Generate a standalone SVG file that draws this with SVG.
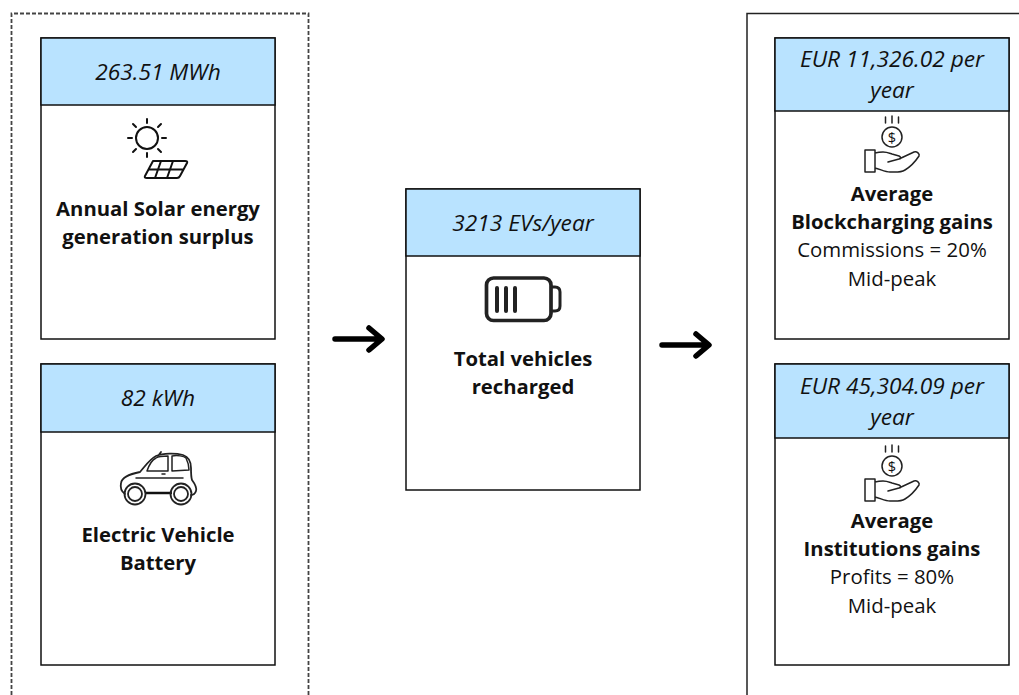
<svg xmlns="http://www.w3.org/2000/svg" width="1019" height="695" viewBox="0 0 1019 695">
<defs>
<style>
text{font-family:"Open Sans","Noto Sans",sans-serif;fill:#111;text-anchor:middle}
.v{font-size:22.7px;font-style:italic}
.b{font-size:20.3px;font-weight:700}
.r{font-size:20.4px}
.box{fill:#fff;stroke:#111;stroke-width:1.5}
.hd{fill:#b9e3ff;stroke:#111;stroke-width:1.5}
.ic{fill:none;stroke:#111;stroke-width:2;stroke-linecap:round;stroke-linejoin:round}
.th{fill:none;stroke:#222;stroke-width:1.5;stroke-linecap:round;stroke-linejoin:round}
.ar{fill:none;stroke:#000;stroke-width:5.500;stroke-linejoin:round;stroke-linecap:round}
</style>
<g id="coin">
<path class="th" d="M-6.500 -27V-21M0 -28V-21M6.500 -27V-21"/>
<circle class="th" cx="0" cy="-7" r="10"/>
<text x="0" y="-1.500" style="font-size:14.500px">$</text>
<path class="th" d="M-27 6H-17V28H-27ZM-17 9C-13 8 -11 8 -9 8C-5 8 -3 9 0 10L7 12C9 13 9 15 7 15L-4 18M7 15L22 8C25 7 28 10 27 12C23 18 18 23 13 26C8 29 2 28 -2 28C-7 28 -12 25 -17 24"/>
</g>
</defs>
<g id="frames">
<path d="M11.500 695V13.500H308.500V695" fill="none" stroke="#444" stroke-width="1.800" stroke-dasharray="4 2"/>
<path d="M747 695V13.500H1019" fill="none" stroke="#222" stroke-width="1.500"/>
</g>
<g id="connectors">
<path class="ar" d="M335 339H380M369 328L382 339L369 350"/>
<path class="ar" d="M662 345H707M696 334L709 345L696 356"/>
</g>
<g id="node-solar">
<rect class="box" x="41" y="38" width="234" height="301"/>
<rect class="hd" x="41" y="38" width="234" height="67"/>
<text class="v" x="158" y="80">263.51 MWh</text>
<circle class="ic" cx="147" cy="138" r="11"/>
<path class="ic" d="M147 119V123M147 153V157M128 138H132M162 138H166M133 124L136 127M161 124L158 127M133 152L136 149M161 152L158 149"/>
<path class="ic" d="M153 161H185Q188 161 187 163L180 176Q179 178 177 178H147Q144 178 145 176ZM149 169.500H183M161 161L155 178M173 161L167 178"/>
<text class="b" x="158" y="216">Annual Solar energy</text>
<text class="b" x="158" y="244">generation surplus</text>
</g>
<g id="node-ev">
<rect class="box" x="41" y="364" width="234" height="301"/>
<rect class="hd" x="41" y="364" width="234" height="68"/>
<text class="v" x="158" y="406">82 kWh</text>
<path class="th" style="stroke-width:1.800" d="M125 494C122 492 120 488 121 483C122 477 130 474 140 472C146 465 150 459 156 456C163 453 176 453 183 455C189 457 191 462 191 468C191 473 191 477 192 480C195 484 197 488 196 491C195 494 193 495 191 495M158 456L161 452"/>
<path d="M146 493H172" fill="none" stroke="#111" stroke-width="2.500"/>
<path class="th" d="M147 471C149 465 152 460 156 458C159 456 164 456 168 456L168 471ZM172 456C177 455 184 456 186 458C188 462 189 466 189 470L172 471ZM136 478H183M162 474H165"/>
<circle class="th" style="stroke-width:1.800" cx="135" cy="494" r="10.500"/>
<circle class="th" style="stroke-width:1.800" cx="135" cy="494" r="7"/>
<circle class="th" style="stroke-width:1.800" cx="181" cy="494" r="10.500"/>
<circle class="th" style="stroke-width:1.800" cx="181" cy="494" r="7"/>
<text class="b" x="158" y="542">Electric Vehicle</text>
<text class="b" x="158" y="570">Battery</text>
</g>
<g id="node-total">
<rect class="box" x="406" y="189" width="234" height="301"/>
<rect class="hd" x="406" y="189" width="234" height="67"/>
<text class="v" x="523" y="231">3213 EVs/year</text>
<rect x="486.500" y="278" width="64.500" height="42.500" rx="7" fill="none" stroke="#222" stroke-width="3.700"/>
<path d="M552 287H555Q560 287 560 292V306Q560 311 555 311H552" fill="none" stroke="#222" stroke-width="3"/>
<path d="M497 288V311M506 288V311M515 288V311" fill="none" stroke="#222" stroke-width="4" stroke-linecap="round"/>
<text class="b" x="523" y="366">Total vehicles</text>
<text class="b" x="523" y="394">recharged</text>
</g>
<g id="node-blockcharging">
<rect class="box" x="775" y="38" width="234" height="301"/>
<rect class="hd" x="775" y="38" width="234" height="73"/>
<text class="v" x="892" y="67">EUR 11,326.02 per</text>
<text class="v" x="892" y="98">year</text>
<use href="#coin" x="892" y="144"/>
<text class="b" x="892" y="201">Average</text>
<text class="b" x="892" y="229">Blockcharging gains</text>
<text class="r" x="892" y="257">Commissions = 20%</text>
<text class="r" x="892" y="286">Mid-peak</text>
</g>
<g id="node-institutions">
<rect class="box" x="775" y="364" width="234" height="301"/>
<rect class="hd" x="775" y="364" width="234" height="74"/>
<text class="v" x="892" y="394">EUR 45,304.09 per</text>
<text class="v" x="892" y="425">year</text>
<use href="#coin" x="892" y="473"/>
<text class="b" x="892" y="528">Average</text>
<text class="b" x="892" y="556">Institutions gains</text>
<text class="r" x="892" y="584">Profits = 80%</text>
<text class="r" x="892" y="613">Mid-peak</text>
</g>
</svg>
